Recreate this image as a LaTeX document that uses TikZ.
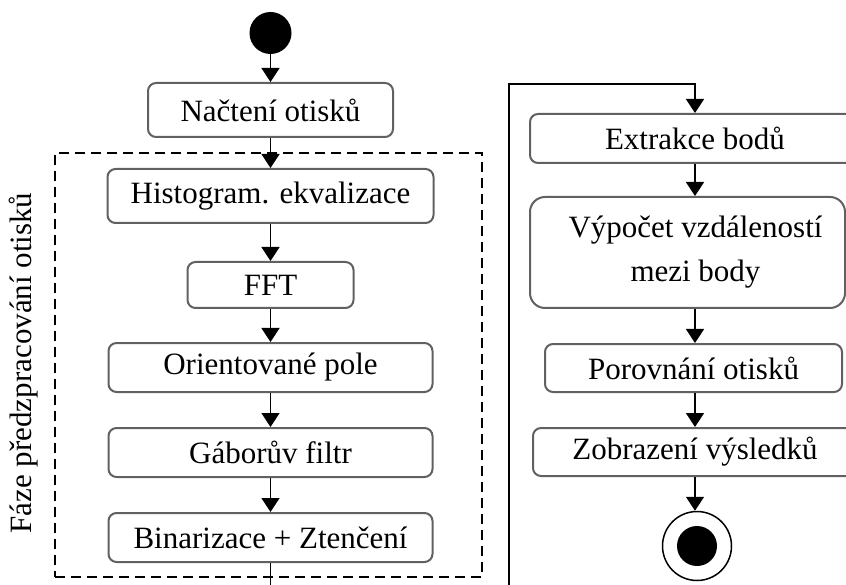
\documentclass[tikz,border=0pt]{standalone}
\usepackage{fontspec}
\setmainfont{Liberation Serif}
\usetikzlibrary{arrows.meta}
\begin{document}
\begin{tikzpicture}[x=1pt,y=-1pt,
  font=\fontsize{31}{44}\selectfont,
  action/.style={draw=black!62, line width=2pt, rounded corners=8pt, inner sep=0pt,
    fill=white, text=black},
  arr/.style={draw=black, line width=1.6pt, -{Triangle[length=14pt,width=18pt]}},
  group/.style={draw=black, line width=2pt, dash pattern=on 10pt off 6pt}]
\useasboundingbox (0,0) rectangle (846,585);
\clip (0,0) rectangle (846,585);

% preprocessing group frame and its caption
\node[group, minimum width=427pt, minimum height=424pt] (grp) at (268.5,365) {};
\node[rotate=90] (grplbl) at (24,363) {Fáze předzpracování otisků};

% left column
\node[circle, fill=black, minimum size=42pt, inner sep=0pt] (start) at (270.5,33) {};
\node[action, minimum width=245pt, minimum height=54pt] (load) at (270.5,110) {Načtení otisků};
\node[action, minimum width=326pt, minimum height=54pt] (hist) at (270.5,196) {Histogram. ekvalizace};
\node[action, minimum width=166pt, minimum height=46pt] (fft) at (270.5,285) {FFT};
\node[action, minimum width=324pt, minimum height=49pt] (orient) at (270.5,367.5) {Orientované pole};
\node[action, minimum width=324pt, minimum height=49pt] (gabor) at (270.5,452.5) {Gáborův filtr};
\node[action, minimum width=324pt, minimum height=49pt] (bin) at (270.5,537.5) {Binarizace + Ztenčení};

% right column
\node[action, minimum width=330pt, minimum height=49pt] (ext) at (695,138.5) {Extrakce bodů};
\node[action, rounded corners=15pt, minimum width=315pt, minimum height=111pt,
  label={[xshift=8pt, align=center, font=\fontsize{31}{44}\selectfont]center:Výpočet vzdáleností\\mezi body}]
  (dist) at (687.5,252.5) {};
\node[action, minimum width=297pt, minimum height=48pt] (comp) at (693.5,368) {Porovnání otisků};
\node[action, minimum width=324pt, minimum height=48pt] (disp) at (695,452) {Zobrazení výsledků};
\node[circle, draw=black, line width=1.5pt, minimum size=69pt, inner sep=0pt,
  path picture={\fill[black] (path picture bounding box.center) circle (20pt);}]
  (end) at (697,546) {};

% flow
\draw[arr] (start) -- (load);
\draw[arr] (load) -- (hist);
\draw[arr] (hist) -- (fft);
\draw[arr] (fft) -- (orient);
\draw[arr] (orient) -- (gabor);
\draw[arr] (gabor) -- (bin);

\coordinate (loopB) at (270.5,600);
\coordinate (loopL) at (509,600);
\coordinate (loopT) at (509,84);
\draw[arr] (bin.south) -- (loopB) -- (loopL) -- (loopT) -| (ext.north);

\draw[arr] (ext.south) -- (ext.south |- dist.north);
\draw[arr] (ext.south |- dist.south) -- (ext.south |- comp.north);
\draw[arr] (ext.south |- comp.south) -- (ext.south |- disp.north);
\draw[arr] (ext.south |- disp.south) -- (ext.south |- end.north);
\end{tikzpicture}
\end{document}
